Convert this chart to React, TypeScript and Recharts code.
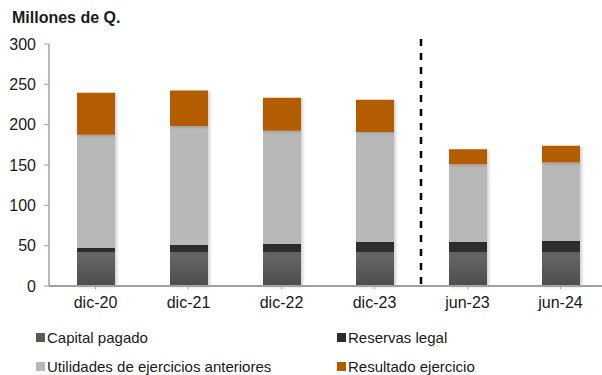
import React from "react";
import {
  BarChart,
  Bar,
  XAxis,
  YAxis,
  ReferenceLine,
} from "recharts";

const periods = ["dic-20", "dic-21", "dic-22", "dic-23", "jun-23", "jun-24"];
const capitalPagado = [41.5, 41.5, 41.5, 41.5, 41.5, 41.5];
const reservasLegal = [6, 9.5, 11, 13, 13, 14.5];
const utilidadesAnteriores = [140, 147.5, 140, 136.5, 96.5, 97];
const resultadoEjercicio = [52, 44, 41, 40, 18.5, 21];
const yTicks = [0, 50, 100, 150, 200, 250, 300];

const series = [
  { key: "capital", label: "Capital pagado", fill: "url(#capGrad)", swatch: "#5a5a5a" },
  { key: "reservas", label: "Reservas legal", fill: "#2d2d2d", swatch: "#2d2d2d" },
  { key: "utilidades", label: "Utilidades de ejercicios anteriores", fill: "#b8b8b8", swatch: "#b8b8b8" },
  { key: "resultado", label: "Resultado ejercicio", fill: "#b45c00", swatch: "#b45c00" },
];

const data = periods.map((p, i) => ({
  period: p,
  capital: capitalPagado[i],
  reservas: reservasLegal[i],
  utilidades: utilidadesAnteriores[i],
  resultado: resultadoEjercicio[i],
}));

const font = "'Liberation Sans', Arial, sans-serif";

const DashedDivider = (props: any) => {
  const x = props.x1;
  const bottom = Math.max(props.y1, props.y2);
  const top = Math.min(props.y1, props.y2) - 5;
  return (
    <line
      x1={x}
      x2={x}
      y1={top}
      y2={bottom}
      stroke="#000"
      strokeWidth={2.5}
      strokeDasharray="7 7"
    />
  );
};

export default function App() {
  return (
    <div
      style={{
        position: "absolute",
        left: 0,
        top: 0,
        width: 602,
        height: 375,
        overflow: "hidden",
        background: "#fff",
        fontFamily: font,
      }}
    >
      <div
        style={{
          position: "absolute",
          left: 12,
          top: 9,
          fontSize: 16,
          fontWeight: "bold",
          color: "#1a1a1a",
        }}
      >
        Millones de Q.
      </div>
      <BarChart
        width={610}
        height={375}
        data={data}
        margin={{ top: 44, right: 3, left: 0, bottom: 59 }}
        barSize={38}
      >
        <defs>
          <linearGradient id="capGrad" x1="0" y1="0" x2="0" y2="1">
            <stop offset="0%" stopColor="#686868" />
            <stop offset="100%" stopColor="#4c4c4c" />
          </linearGradient>
          <filter id="barShadow" x="-20%" y="-20%" width="140%" height="140%">
            <feDropShadow dx="2" dy="1" stdDeviation="1.5" floodColor="#000" floodOpacity="0.18" />
          </filter>
        </defs>
        <XAxis
          dataKey="period"
          height={30}
          tickLine={{ stroke: "#a0a0a0" }}
          tickSize={3}
          tickMargin={8}
          axisLine={{ stroke: "#a0a0a0", strokeWidth: 2 }}
          tick={{ fill: "#1a1a1a", fontSize: 16, fontFamily: font }}
          interval={0}
        />
        <YAxis
          width={49}
          domain={[0, 300]}
          ticks={yTicks}
          tickSize={5}
          tickMargin={8}
          tickLine={{ stroke: "#a0a0a0" }}
          axisLine={{ stroke: "#a0a0a0", strokeWidth: 1.5 }}
          tick={{ fill: "#1a1a1a", fontSize: 16, fontFamily: font }}
        />
        {series.map((s) => (
          <Bar
            key={s.key}
            dataKey={s.key}
            stackId="a"
            fill={s.fill}
            filter="url(#barShadow)"
            isAnimationActive={false}
          />
        ))}
        <ReferenceLine
          x="dic-23"
          position="end"
          ifOverflow="visible"
          shape={DashedDivider}
        />
      </BarChart>
      {series.map((s, i) => (
        <div
          key={s.key}
          style={{
            position: "absolute",
            left: i % 2 === 0 ? 36 : 337,
            top: i < 2 ? 329 : 358,
            display: "flex",
            alignItems: "center",
            fontSize: 15,
            color: "#1a1a1a",
            whiteSpace: "nowrap",
          }}
        >
          <span
            style={{
              display: "inline-block",
              width: 9,
              height: 9,
              background: s.swatch,
              marginRight: 2,
            }}
          />
          {s.label}
        </div>
      ))}
    </div>
  );
}
